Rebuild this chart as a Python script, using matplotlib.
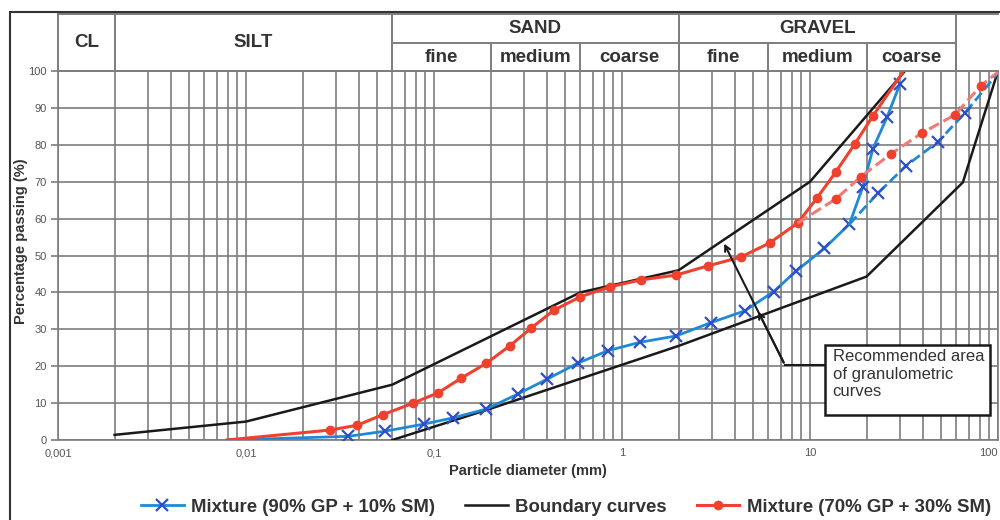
import matplotlib
matplotlib.use('Agg')
import matplotlib.pyplot as plt
from matplotlib.patches import Rectangle
from matplotlib.ticker import FixedLocator, NullFormatter, LogLocator

plt.rcParams['font.family'] = ['Liberation Sans', 'DejaVu Sans']

# Mixture 90% GP + 10% SM, common part, then solid and dashed branches
d_mix90 = [0.008, 0.035, 0.055, 0.088, 0.126, 0.19, 0.28, 0.40, 0.58, 0.84,
           1.25, 1.94, 2.97, 4.5, 6.4, 8.4, 11.9, 16.2]
p_mix90 = [0, 1.0, 2.4, 4.3, 6.0, 8.4, 12.5, 16.5, 20.8, 24.2,
           26.5, 28.2, 31.8, 35.0, 40.2, 45.7, 51.9, 58.5]
d_mix90_solid = [16.2, 19.1, 21.6, 25.7, 30.1]
p_mix90_solid = [58.5, 68.6, 78.9, 87.5, 96.5]
d_mix90_dash = [16.2, 23.0, 32.4, 47.9, 66.7, 100]
p_mix90_dash = [58.5, 66.9, 74.3, 80.8, 88.6, 99.5]

# Mixture 70% GP + 30% SM
d_mix70 = [0.0079, 0.028, 0.039, 0.0536, 0.0776, 0.105, 0.14, 0.19, 0.254,
           0.33, 0.435, 0.60, 0.86, 1.26, 1.94, 2.87, 4.3, 6.1, 8.6]
p_mix70 = [0, 2.7, 4.0, 6.9, 10.0, 12.8, 16.8, 20.8, 25.6,
           30.4, 35.2, 38.8, 41.5, 43.4, 44.7, 47.2, 49.6, 53.4, 58.8]
d_mix70_solid = [8.6, 10.9, 13.7, 17.3, 21.6, 31]
p_mix70_solid = [58.8, 65.6, 72.6, 80.2, 87.8, 99.5]
d_mix70_dash = [8.6, 13.7, 18.6, 26.9, 39.4, 59, 81, 100]
p_mix70_dash = [58.8, 65.3, 71.3, 77.5, 83.2, 88.1, 96.0, 99.7]

# boundary curves of the recommended area
d_upper = [0.002, 0.01, 0.06, 0.6, 2, 10, 32]
p_upper = [1.4, 5, 15, 40, 46, 70, 100]
d_lower = [0.06, 0.2, 2, 20, 65, 100]
p_lower = [0, 8.5, 25.5, 44.3, 69.8, 100]

x_ticks = [0.001, 0.01, 0.1, 1, 10, 100]
x_ticklabels = ['0,001', '0,01', '0,1', '1', '10', '100']

# header classification (ranges in mm)
main_classes = [('CL', 0.001, 0.002), ('SILT', 0.002, 0.06),
                ('SAND', 0.06, 2), ('GRAVEL', 2, 60)]
sub_classes = [('fine', 0.06, 0.2), ('medium', 0.2, 0.6), ('coarse', 0.6, 2),
               ('fine', 2, 6), ('medium', 6, 20), ('coarse', 20, 60)]

blue = '#1e8ad6'
blue_mk = '#2f4fc8'
red = '#f0402e'
red_dash = '#f07a74'
grid_c = '#7d7d7d'

fig = plt.figure(figsize=(10, 5.2), dpi=100)
ax = fig.add_axes([0.058, 0.1538, 0.94, 0.7097])
hx = fig.add_axes([0.058, 0.8635, 0.94, 0.1095])

ax.set_xscale('log')
ax.set_xlim(0.001, 100)
ax.set_ylim(0, 100)
ax.xaxis.set_major_locator(FixedLocator(x_ticks))
ax.set_xticklabels(x_ticklabels)
ax.xaxis.set_minor_locator(LogLocator(base=10, subs=range(2, 10)))
ax.xaxis.set_minor_formatter(NullFormatter())
ax.set_yticks(range(0, 101, 10))
ax.grid(True, which='both', axis='x', color=grid_c, lw=1.2)
ax.grid(True, which='major', axis='y', color=grid_c, lw=1.2)
ax.tick_params(axis='x', which='both', length=0, labelsize=8, labelcolor='#555555', pad=6)
ax.tick_params(axis='y', length=5, color=grid_c, width=1.2, labelsize=8, labelcolor='#555555', pad=3)
# last label sits at the right edge, keep it inside the picture
ax.get_xticklabels()[-1].set_horizontalalignment('right')
for s in ax.spines.values():
    s.set_color(grid_c)
    s.set_linewidth(1.2)
ax.set_xlabel('Particle diameter (mm)', fontsize=10.5, fontweight='bold', color='#333333', labelpad=4)
ax.set_ylabel('Percentage passing (%)', fontsize=10.5, fontweight='bold', color='#333333')
ax.yaxis.set_label_coords(-0.032, 0.54)

# boundary curves
ax.plot(d_upper, p_upper, color='#1a1a1a', lw=1.8, zorder=3)
ax.plot(d_lower, p_lower, color='#1a1a1a', lw=1.8, zorder=3)

# mixture 90/10
ax.plot(d_mix90, p_mix90, color=blue, lw=2, marker='x', ms=9, mew=1.6, mec=blue_mk,
        markevery=list(range(1, len(d_mix90))), zorder=4)
ax.plot(d_mix90_solid, p_mix90_solid, color=blue, lw=2, marker='x', ms=9, mew=1.6,
        mec=blue_mk, markevery=list(range(1, len(d_mix90_solid))), zorder=4)
ax.plot(d_mix90_dash, p_mix90_dash, color=blue, lw=2, ls='--', marker='x', ms=9, mew=1.6,
        mec=blue_mk, markevery=list(range(1, len(d_mix90_dash) - 1)), zorder=4)

# mixture 70/30
ax.plot(d_mix70, p_mix70, color=red, lw=2.2, marker='o', ms=6, mec=red, mfc=red,
        markevery=list(range(1, len(d_mix70))), zorder=5)
ax.plot(d_mix70_solid, p_mix70_solid, color=red, lw=2.2, marker='o', ms=6, mec=red, mfc=red,
        markevery=list(range(1, len(d_mix70_solid) - 1)), zorder=5)
ax.plot(d_mix70_dash, p_mix70_dash, color=red_dash, lw=2.2, ls='--', marker='o', ms=6,
        mec=red, mfc=red, markevery=list(range(1, len(d_mix70_dash) - 1)), zorder=5)

# annotation
ax.add_patch(Rectangle((12.0, 6.8), 90.6 - 12.0, 25.7 - 6.8, facecolor='white',
                       edgecolor='#1a1a1a', lw=1.8, zorder=6))
ax.text(13.2, 24.6, 'Recommended area\nof granulometric\ncurves', fontsize=12,
        color='#333333', va='top', ha='left', linespacing=1.2, zorder=7)
ax.plot([7.36, 12.0], [20.3, 20.3], color='#1a1a1a', lw=1.5, zorder=6)
ax.annotate('', xy=(3.44, 53.9), xytext=(7.36, 20.3),
            arrowprops=dict(arrowstyle='->', color='#1a1a1a', lw=1.5), zorder=6)
ax.annotate('', xy=(5.22, 35.5), xytext=(7.36, 20.3),
            arrowprops=dict(arrowstyle='->', color='#1a1a1a', lw=1.5), zorder=6)

# header with soil classes
hx.set_xscale('log')
hx.set_xlim(0.001, 100)
hx.set_ylim(0, 2)
hx.set_xticks([])
hx.set_yticks([])
hx.minorticks_off()
for s in hx.spines.values():
    s.set_color(grid_c)
    s.set_linewidth(1.4)
hx.spines['right'].set_visible(False)
hx.plot([0.06, 60], [1, 1], color=grid_c, lw=1.4)
for lab, a, b in main_classes:
    hx.axvline(b, color=grid_c, lw=1.4)
    yc = 1.0 if lab in ('CL', 'SILT') else 1.5
    hx.text((a * b) ** 0.5, yc, lab, ha='center', va='center', fontsize=13.5,
            fontweight='bold', color='#333333')
for lab, a, b in sub_classes:
    hx.plot([b, b], [0, 1], color=grid_c, lw=1.4)
    hx.text((a * b) ** 0.5, 0.48, lab, ha='center', va='center', fontsize=13.5,
            fontweight='bold', color='#333333')

# legend
h90, = ax.plot([], [], color=blue, lw=2, marker='x', ms=9, mew=1.6, mec=blue_mk)
hb, = ax.plot([], [], color='#1a1a1a', lw=1.8)
h70, = ax.plot([], [], color=red, lw=2.2, marker='o', ms=6, mec=red, mfc=red)
fig.legend([h90, hb, h70],
           ['Mixture (90% GP + 10% SM)', 'Boundary curves', 'Mixture (70% GP + 30% SM)'],
           loc='center', bbox_to_anchor=(0.566, 0.025), ncol=3, frameon=False,
           handlelength=2.3, columnspacing=1.6, handletextpad=0.4,
           prop={'size': 13.4, 'weight': 'bold'}, labelcolor='#333333')

# outer frame
fig.patches.append(Rectangle((0.01, -0.05), 1.2, 0.977 + 0.05, transform=fig.transFigure,
                             fill=False, edgecolor='#333333', lw=1.5))

fig.savefig('out.png', dpi=100)
